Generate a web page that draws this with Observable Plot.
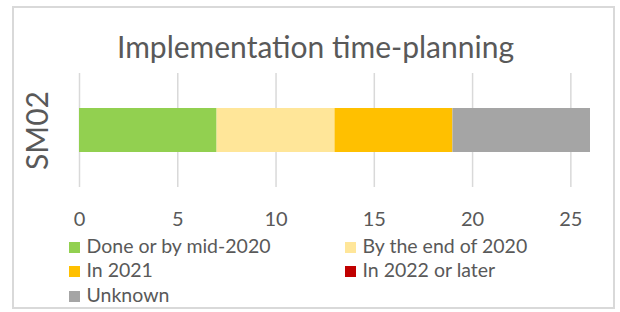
<!DOCTYPE html>
<html><head><meta charset="utf-8">
<script src="https://cdn.jsdelivr.net/npm/d3@7"></script>
<script src="https://cdn.jsdelivr.net/npm/@observablehq/plot@0.6"></script>
<style>
html,body{margin:0;padding:0;background:#fff;}
#wrap{position:relative;width:620px;height:312px;overflow:hidden;font-family:Lato,sans-serif;color:#595959;background:#fff;}
#frame{position:absolute;left:12px;top:6px;width:603px;height:303px;border:2px solid #d9d9d9;box-sizing:border-box;}
#title{position:absolute;left:0;width:631px;top:28px;text-align:center;font-size:30px;line-height:36px;white-space:nowrap;}
#chart{position:absolute;left:0;top:0;}
.item{position:absolute;display:flex;align-items:baseline;font-size:19.5px;line-height:25px;white-space:nowrap;}
.sw{width:11px;height:11px;margin-right:6.5px;display:inline-block;}
</style>
</head><body>
<div id="wrap">
  <div id="frame"></div>
  <div id="title">Implementation time-planning</div>
  <div id="chart"></div>
  <div id="legend"></div>
</div>
<script>
const categories = ["SM02"];
const statuses = ["Done or by mid-2020", "By the end of 2020", "In 2021", "In 2022 or later", "Unknown"];
const values = [7, 6, 6, 0, 7];
const colors = ["#92D050", "#FFE699", "#FFC000", "#C00000", "#A5A5A5"];
const xTicks = [0, 5, 10, 15, 20, 25];

const data = statuses.map((s, i) => ({cat: categories[0], status: s, value: values[i]}));

const chart = Plot.plot({
  width: 620,
  height: 235,
  marginTop: 73,
  marginBottom: 48,
  marginLeft: 79,
  marginRight: 30,
  style: {fontFamily: "Lato, sans-serif", color: "#595959", background: "transparent", overflow: "visible"},
  x: {domain: [0, 26], axis: null, label: null},
  y: {domain: categories, padding: 0.437, axis: null, label: null},
  color: {domain: statuses, range: colors},
  marks: [
    Plot.gridX(xTicks, {stroke: "#d9d9d9", strokeOpacity: 1, strokeWidth: 1.5}),
    Plot.barX(data, {x: "value", y: "cat", fill: "status"}),
    Plot.axisX(xTicks, {tickSize: 0, tickPadding: 24, fontSize: 20, label: null, fill: "#595959"}),
    Plot.text(categories, {y: d => d, frameAnchor: "left", dx: -41, rotate: -90, fontSize: 30, fill: "#595959", textAnchor: "middle"})
  ]
});
document.getElementById("chart").appendChild(chart);

const legend = document.getElementById("legend");
const colX = [69, 345];
statuses.forEach((s, i) => {
  const row = Math.floor(i / 2), col = i % 2;
  const el = document.createElement("div");
  el.className = "item";
  el.style.left = colX[col] + "px";
  el.style.top = (252.7 + 24.7 * row - 20.2) + "px";
  const sw = document.createElement("span");
  sw.className = "sw";
  sw.style.background = colors[i];
  const tx = document.createElement("span");
  tx.textContent = s;
  el.appendChild(sw);
  el.appendChild(tx);
  legend.appendChild(el);
});
</script>
</body></html>
